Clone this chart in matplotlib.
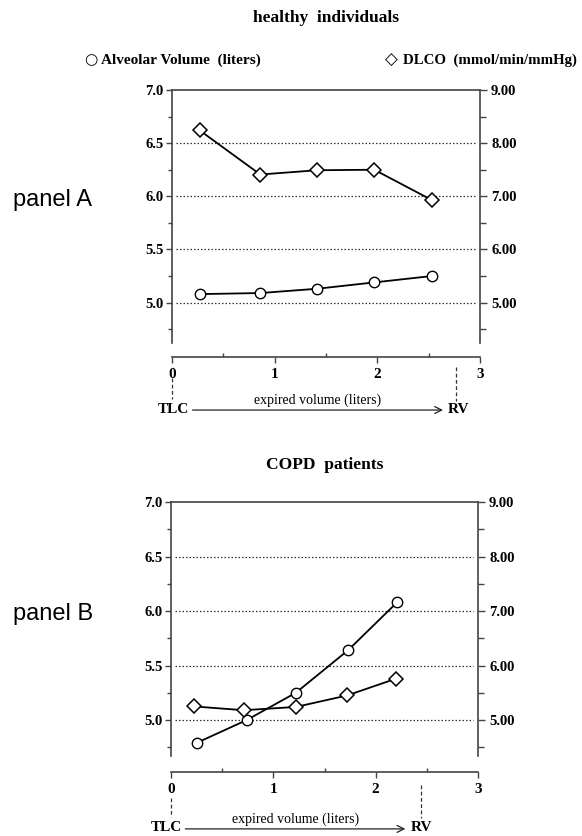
import numpy as np
import matplotlib
matplotlib.use("Agg")
from matplotlib import pyplot as plt
from matplotlib.ticker import MultipleLocator, FormatStrFormatter

plt.rcParams['font.family'] = 'Liberation Serif'
plt.rcParams['font.weight'] = 'bold'

# healthy individuals (panel A)
x_healthy = [0.27, 0.86, 1.41, 1.97, 2.53]
va_healthy = [5.08, 5.09, 5.13, 5.19, 5.25]
dlco_healthy = [8.24, 7.41, 7.49, 7.50, 6.93]
rv_healthy = 2.77

# COPD patients (panel B)
x_copd_va = [0.25, 0.74, 1.22, 1.73, 2.21]
va_copd = [4.79, 5.00, 5.25, 5.64, 6.08]
x_copd_dlco = [0.22, 0.71, 1.22, 1.72, 2.20]
dlco_copd = [5.25, 5.18, 5.24, 5.45, 5.76]
rv_copd = 2.44

left_ticks = [5.0, 5.5, 6.0, 6.5, 7.0]
right_ticks = [5, 6, 7, 8, 9]
x_ticks = [0, 1, 2, 3]

W, H = 582, 836
AXC = '#444444'


def px_rect(left, top, right, bottom):
    return [left / W, 1 - bottom / H, (right - left) / W, (bottom - top) / H]


def draw_panel(fig, rect, title, panel_label, ymin, x_va, va, x_dl, dl, rv,
               xaxis_off, y_tlc, y_arrow, y_text, rv_dash, tlc_dash, arrow_x):
    ax = fig.add_axes(px_rect(*rect))
    ax.set_xlim(0, 3)
    ax.set_ylim(ymin, 7.0)
    ax.patch.set_alpha(0)

    for s in ['left', 'top', 'bottom']:
        ax.spines[s].set_color(AXC)
        ax.spines[s].set_linewidth(1.2)
    ax.spines['right'].set_visible(False)
    ax.spines['bottom'].set_position(('outward', xaxis_off))

    ax.set_yticks(left_ticks)
    ax.yaxis.set_major_formatter(FormatStrFormatter('%.1f'))
    ax.yaxis.set_minor_locator(MultipleLocator(0.25))
    ax.set_xticks(x_ticks)
    ax.xaxis.set_minor_locator(MultipleLocator(0.5))
    ax.tick_params(axis='y', which='major', direction='out', length=4, width=1,
                   color=AXC, labelsize=10.5, pad=2)
    ax.tick_params(axis='y', which='minor', direction='out', length=3, width=1, color=AXC)
    ax.tick_params(axis='x', which='major', direction='out', length=4, width=1,
                   color=AXC, labelsize=11, pad=4)
    ax.tick_params(axis='x', which='minor', direction='in', length=3, width=1, color=AXC)

    for v in left_ticks[:-1]:
        ax.axhline(v, xmin=0.012, xmax=0.985, color='#333333', lw=0.9,
                   ls=(0, (1.2, 1.6)), zorder=1)

    ax2 = ax.twinx()
    ax2.set_ylim(2 * ymin - 5, 9.0)
    for s in ['left', 'top', 'bottom']:
        ax2.spines[s].set_visible(False)
    ax2.spines['right'].set_color(AXC)
    ax2.spines['right'].set_linewidth(1.2)
    ax2.set_yticks(right_ticks)
    ax2.yaxis.set_major_formatter(FormatStrFormatter('%.2f'))
    ax2.yaxis.set_minor_locator(MultipleLocator(0.5))
    ax2.tick_params(axis='y', which='major', direction='out', length=5, width=1,
                    color=AXC, labelsize=10.5, pad=3)
    ax2.tick_params(axis='y', which='minor', direction='out', length=4, width=1, color=AXC)

    ax.plot(x_va, va, '-o', color='black', lw=1.3, ms=7.5, mfc='white',
            mec='black', mew=1.0, zorder=5, clip_on=False)
    ax2.plot(x_dl, dl, '-D', color='black', lw=1.3, ms=7, mfc='white',
             mec='black', mew=1.1, zorder=5, clip_on=False)

    # TLC / RV annotations below the volume axis
    tr = ax.get_xaxis_transform()
    ax.plot([0, 0], tlc_dash, transform=tr, color='#333333', lw=0.9,
            ls=(0, (3, 2)), clip_on=False)
    ax.plot([rv, rv], rv_dash, transform=tr, color='#333333', lw=0.9,
            ls=(0, (3, 2)), clip_on=False)
    ax.text(arrow_x[0] - 0.03, y_tlc, 'TLC', transform=tr, ha='right', va='center',
            fontsize=11)
    ax.text(arrow_x[1] + 0.05, y_tlc, 'RV', transform=tr, ha='left', va='center',
            fontsize=11)
    ax.annotate('', xy=(arrow_x[1], y_arrow), xytext=(arrow_x[0], y_arrow),
                xycoords=tr, textcoords=tr, annotation_clip=False,
                arrowprops=dict(arrowstyle='->,head_length=0.5,head_width=0.25',
                                lw=0.9, color='#222222', shrinkA=0, shrinkB=0))
    ax.text((arrow_x[0] + arrow_x[1]) / 2, y_text, 'expired volume (liters)',
            transform=tr, ha='center', va='baseline', fontsize=10,
            fontweight='normal')

    cx = (rect[0] + rect[2]) / 2 / W
    fig.text(cx, 1 - title[1] / H, title[0], ha='center', va='center', fontsize=12.5)
    fig.text(13 / W, 1 - panel_label[1] / H, panel_label[0], ha='left', va='center',
             fontsize=17, family='Liberation Sans', fontweight='normal')
    return ax


fig = plt.figure(figsize=(W / 100, H / 100), dpi=100)

draw_panel(fig, (172, 90, 480, 343), ('healthy  individuals', 18), ('panel A', 200),
           4.62, x_healthy, va_healthy, x_healthy, dlco_healthy, rv_healthy,
           xaxis_off=10, y_tlc=-0.262, y_arrow=-0.265, y_text=-0.24,
           rv_dash=(-0.095, -0.23), tlc_dash=(-0.138, -0.22), arrow_x=(0.2, 2.64))

draw_panel(fig, (171, 502, 478, 756), ('COPD  patients', 465), ('panel B', 614),
           4.67, x_copd_va, va_copd, x_copd_dlco, dlco_copd, rv_copd,
           xaxis_off=11.5, y_tlc=-0.283, y_arrow=-0.287, y_text=-0.262,
           rv_dash=(-0.114, -0.244), tlc_dash=(-0.165, -0.24), arrow_x=(0.14, 2.29))

# legend row at top
fig.text(91 / W, 1 - 60 / H, u'\u25cb', ha='center', va='center', fontsize=11,
         family='DejaVu Sans', fontweight='normal')
fig.text(101 / W, 1 - 60 / H, 'Alveolar Volume  (liters)', ha='left', va='center',
         fontsize=11)
fig.text(391 / W, 1 - 60 / H, u'\u25c7', ha='center', va='center', fontsize=12,
         family='DejaVu Sans', fontweight='normal')
fig.text(403 / W, 1 - 60 / H, 'DLCO  (mmol/min/mmHg)', ha='left', va='center',
         fontsize=10.7)

fig.savefig('out.png', dpi=100)
